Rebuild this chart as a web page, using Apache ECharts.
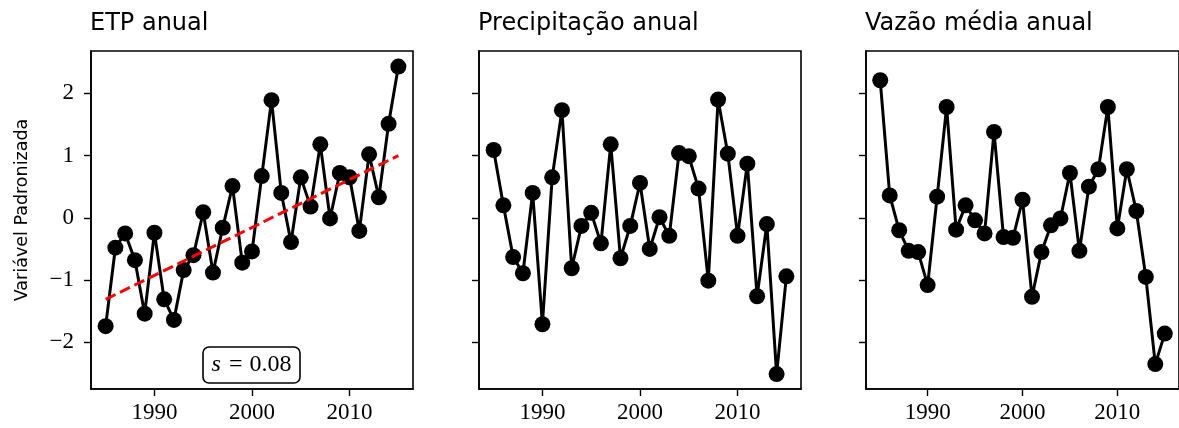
<!DOCTYPE html>
<html>
<head>
<meta charset="utf-8">
<script src="https://cdn.jsdelivr.net/npm/echarts@6/dist/echarts.min.js"></script>
<style>
	html, body { margin: 0; padding: 0; background: #fff; }
	#chart { width: 1179px; height: 428px; }
</style>
</head>
<body>
<div id="chart"></div>
<script>
const years = [1985, 1986, 1987, 1988, 1989, 1990, 1991, 1992, 1993, 1994, 1995, 1996, 1997, 1998, 1999, 2000,
	2001, 2002, 2003, 2004, 2005, 2006, 2007, 2008, 2009, 2010, 2011, 2012, 2013, 2014, 2015];

const titles = ['ETP anual', 'Precipitação anual', 'Vazão média anual'];

const etp = [-1.74, -0.48, -0.25, -0.68, -1.54, -0.24, -1.31, -1.64, -0.84, -0.60, 0.09, -0.88, -0.16, 0.51, -0.72, -0.54,
	0.67, 1.89, 0.40, -0.39, 0.65, 0.18, 1.18, -0.01, 0.72, 0.65, -0.21, 1.02, 0.33, 1.51, 2.43];

const precip = [1.09, 0.20, -0.63, -0.89, 0.40, -1.71, 0.65, 1.73, -0.81, -0.13, 0.08, -0.41, 1.18, -0.65, -0.13, 0.56,
	-0.50, 0.01, -0.29, 1.04, 0.99, 0.47, -1.01, 1.90, 1.03, -0.29, 0.87, -1.26, -0.10, -2.51, -0.94];

const vazao = [2.21, 0.36, -0.20, -0.53, -0.55, -1.08, 0.34, 1.78, -0.19, 0.20, -0.04, -0.25, 1.38, -0.31, -0.32, 0.29,
	-1.27, -0.55, -0.12, -0.01, 0.72, -0.53, 0.50, 0.78, 1.78, -0.17, 0.78, 0.11, -0.95, -2.35, -1.86];

// tendencia linear da ETP (extremos)
const trendYears = [1985, 2015];
const trendValues = [-1.31, 1.00];

const xTicks = [1990, 2000, 2010];
const yTicks = [-2, -1, 0, 1, 2];

const serifFont = 'Liberation Serif';
const sansFont = 'DejaVu Sans';

const gridLefts = [91, 479, 866];
const allValues = [etp, precip, vazao];

const toPairs = (xs, ys) => xs.map((x, i) => [x, ys[i]]);
const minus = (v) => (v < 0 ? '\u2212' + Math.abs(v) : String(v));

const grids = gridLefts.map((left) => ({
	left: left,
	top: 51,
	width: 322,
	height: 338,
	show: true,
	borderColor: '#000',
	borderWidth: 1.6,
	backgroundColor: '#fff'
}));

const xAxes = gridLefts.map((l, i) => ({
	type: 'value',
	gridIndex: i,
	min: 1983.5,
	max: 2016.5,
	splitLine: { show: false },
	axisLine: { show: true, onZero: false, lineStyle: { color: '#000', width: 1.6 } },
	axisTick: { show: true, length: 7, customValues: xTicks, lineStyle: { color: '#000', width: 1.4 } },
	axisLabel: {
		show: true,
		customValues: xTicks,
		margin: 12,
		color: '#000',
		fontFamily: serifFont,
		fontSize: 23,
		formatter: (v) => String(v)
	}
}));

const yAxes = gridLefts.map((l, i) => ({
	type: 'value',
	gridIndex: i,
	min: -2.75,
	max: 2.68,
	splitLine: { show: false },
	axisLine: { show: true, onZero: false, lineStyle: { color: '#000', width: 1.6 } },
	axisTick: { show: true, length: 7, customValues: yTicks, lineStyle: { color: '#000', width: 1.4 } },
	axisLabel: {
		show: i === 0,
		customValues: yTicks,
		margin: 17,
		color: '#000',
		fontFamily: serifFont,
		fontSize: 23,
		formatter: minus
	}
}));

const series = allValues.map((vals, i) => ({
	type: 'line',
	xAxisIndex: i,
	yAxisIndex: i,
	data: toPairs(years, vals),
	symbol: 'circle',
	symbolSize: 16,
	lineStyle: { color: '#000', width: 3 },
	itemStyle: { color: '#000' },
	z: 2,
	animation: false
}));

series.push({
	type: 'line',
	xAxisIndex: 0,
	yAxisIndex: 0,
	data: toPairs(trendYears, trendValues),
	symbol: 'none',
	lineStyle: { color: '#ff0000', width: 3, type: [11, 5] },
	z: 3,
	animation: false
});

const option = {
	backgroundColor: '#fff',
	animation: false,
	title: titles.map((t, i) => ({
		text: t,
		left: gridLefts[i] - 1,
		top: 12,
		padding: 0,
		textStyle: { fontFamily: sansFont, fontSize: 24, fontWeight: 'normal', color: '#000' }
	})),
	grid: grids,
	xAxis: xAxes,
	yAxis: yAxes,
	series: series,
	graphic: [
		{
			type: 'text',
			x: 22,
			y: 210,
			rotation: Math.PI / 2,
			style: {
				text: 'Variável Padronizada',
				fontFamily: sansFont,
				fontSize: 17.5,
				fill: '#000',
				align: 'center',
				verticalAlign: 'middle'
			}
		},
		{
			type: 'rect',
			shape: { x: 203, y: 347, width: 97, height: 36, r: 6 },
			style: { fill: '#fff', stroke: '#000', lineWidth: 1.6 },
			z: 10
		},
		{
			type: 'text',
			x: 251.5,
			y: 365,
			z: 11,
			style: {
				text: '{i|s}{e|=}0.08',
				fontFamily: serifFont,
				fontSize: 24,
				fill: '#000',
				align: 'center',
				verticalAlign: 'middle',
				rich: {
					i: { fontFamily: serifFont, fontStyle: 'italic', fontSize: 24, fill: '#000' },
					e: { fontFamily: serifFont, fontSize: 24, fill: '#000', padding: [0, 7, 0, 8] }
				}
			}
		}
	]
};

const myChart = echarts.init(document.getElementById('chart'), null, { renderer: 'canvas' });
myChart.setOption(option);
</script>
</body>
</html>
